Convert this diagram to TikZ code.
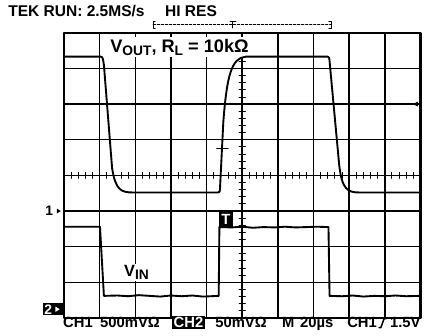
\documentclass[tikz,border=0pt]{standalone}
\usepackage{fontspec}
\setmainfont{Liberation Sans}
\newcommand{\lowtxt}[1]{\raisebox{-0.35ex}{\fontsize{11}{12}\selectfont #1}}
\begin{document}
\begin{tikzpicture}[line cap=round,line join=round,>=stealth,font=\bfseries\fontsize{11.8}{14}\selectfont,scale=1,
	gridline/.style={line width=1.2pt},
	trace/.style={line width=1.5pt},
	tickmark/.style={line width=0.7pt},
	invbox/.style={fill=black,text=white,inner sep=1.2pt},
	readout/.style={anchor=base west,inner sep=0pt}]
	\useasboundingbox (-1.795,-0.505) rectangle (10.24,8.92);
	\foreach \x in {1,...,9}
	\draw[gridline] (\x,0) -- (\x,8);
	\foreach \y in {1,...,7}
	\draw[gridline] (0,\y) -- (10,\y);
	\foreach \t in {1,...,49}
	\draw[tickmark,shift={(\t*0.2,4)}] (0pt,-2.5pt) -- (0pt,2.5pt);
	\foreach \t in {1,...,39}
	\draw[tickmark,shift={(5,\t*0.2)}] (-2.5pt,0pt) -- (2.5pt,0pt);
	\draw[line width=1.9pt] (0,0) rectangle (10,8);
	\node[readout,font=\bfseries\fontsize{12.4}{14}\selectfont] (title) at (-1.57,8.46) {TEK RUN: 2.5MS/s};
	\node[readout,font=\bfseries\fontsize{12.4}{14}\selectfont] (hires) at (2.83,8.46) {HI RES};
	\draw[line width=0.6pt,dash pattern=on 2pt off 1.2pt] (2.5,8.225) -- (7.49,8.225);
	\draw[line width=0.7pt] (2.56,8.32) -- (2.5,8.32) -- (2.5,8.13) -- (2.56,8.13);
	\draw[line width=0.7pt] (7.43,8.32) -- (7.49,8.32) -- (7.49,8.13) -- (7.43,8.13);
	\draw[line width=0.8pt] (4.66,8.32) -- (4.82,8.32) (4.74,8.32) -- (4.74,8.14);
	\node[anchor=base west,fill=white,inner sep=1.5pt,font=\bfseries\fontsize{14.5}{16}\selectfont] (vout) at (1.24,7.46) {V\lowtxt{OUT}, R\lowtxt{L} = 10kΩ};
	\draw[trace] (0,7.33) -- (1.04,7.33) .. controls (1.10,7.33) and (1.10,7.2) .. (1.12,7.1) -- (1.35,4.2) .. controls (1.45,3.58) and (1.6,3.52) .. (1.95,3.52) -- (4.32,3.52) .. controls (4.37,3.52) .. (4.38,3.7) -- (4.47,5.5) .. controls (4.57,6.8) and (4.7,7.3) .. (5.1,7.33) -- (7.40,7.33) .. controls (7.44,7.33) .. (7.46,7.1) -- (7.72,4.3) .. controls (7.80,3.6) and (7.95,3.52) .. (8.3,3.52) -- (10,3.52);
	\draw[line width=1.1pt] (4.29,4.76) -- (4.60,4.76);
	\draw[trace] (0,2.56) -- (1.01,2.56) -- (1.12,0.62) -- (1.5,0.63) -- (1.8,0.61) -- (2.1,0.64) -- (2.4,0.62) -- (2.7,0.60) -- (3.0,0.63) -- (3.3,0.61) -- (3.6,0.63) -- (3.9,0.60) -- (4.34,0.62) -- (4.36,2.55) -- (4.7,2.54) -- (5.0,2.56) -- (5.3,2.53) -- (5.6,2.55) -- (5.9,2.54) -- (6.2,2.56) -- (6.5,2.54) -- (6.8,2.55) -- (7.1,2.56) -- (7.42,2.55) -- (7.45,0.62) -- (7.8,0.61) -- (8.1,0.63) -- (8.4,0.60) -- (8.7,0.62) -- (9.0,0.61) -- (9.3,0.63) -- (9.6,0.61) -- (10,0.62);
	\node[anchor=base west,fill=white,inner sep=1.2pt,font=\bfseries\fontsize{13}{14}\selectfont] (vin) at (1.64,1.15) {V\lowtxt{IN}};
	\node[invbox,minimum width=0.39cm,minimum height=0.42cm,inner sep=0pt] (trig) at (4.545,2.775) {T};
	\node[inner sep=0pt,font=\bfseries\fontsize{11}{13}\selectfont] (gnd1) at (-0.415,3) {1};
	\fill (-0.2,3.07) -- (-0.09,3) -- (-0.2,2.93) -- cycle;
	\fill (9.93,6.07) -- (9.79,6) -- (9.93,5.93) -- cycle;
	\node[fill=black,minimum width=0.56cm,minimum height=0.33cm,inner sep=0pt] (gnd2) at (-0.31,0.245) {};
	\node[text=white,inner sep=0pt,font=\bfseries\fontsize{11}{13}\selectfont] (gnd2num) at (-0.44,0.245) {2};
	\fill[white] (-0.24,0.32) -- (-0.12,0.245) -- (-0.24,0.17) -- cycle;
	\node[readout] (ch1) at (-0.03,-0.27) {CH1};
	\node[readout] (ch1v) at (1.01,-0.27) {500mVΩ};
	\node[invbox,anchor=base west] (ch2) at (3.03,-0.27) {CH2};
	\node[readout] (ch2v) at (4.24,-0.27) {50mVΩ};
	\node[readout] (tbase) at (6.11,-0.27) {M};
	\node[readout] (tdiv) at (6.62,-0.27) {20µs};
	\node[readout] (trigsrc) at (7.94,-0.27) {CH1};
	\draw[line width=1.2pt] (8.84,-0.27) -- (8.89,-0.27) -- (8.98,-0.02) -- (9.04,-0.02);
	\node[readout] (triglvl) at (9.14,-0.27) {1.5V};
\end{tikzpicture}
\end{document}
